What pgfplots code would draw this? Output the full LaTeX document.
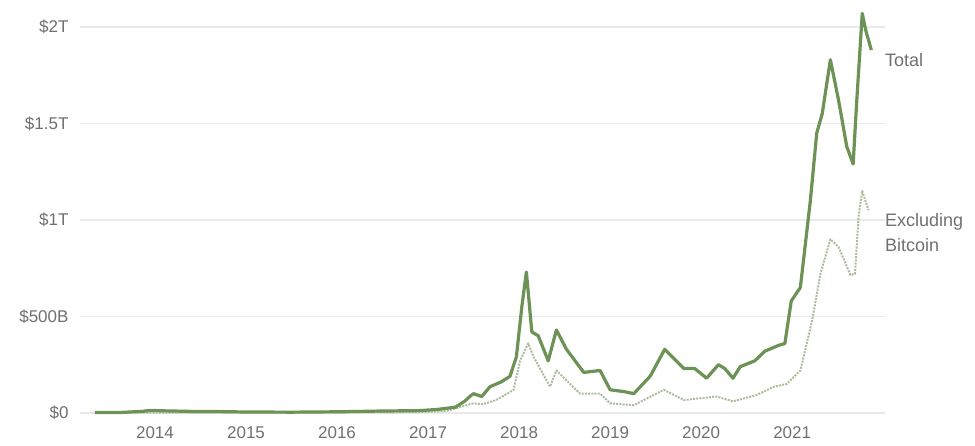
\documentclass[border=0pt]{standalone}
\usepackage{pgfplots}
\pgfplotsset{compat=1.18}
\usepackage{fontspec}
\setmainfont{Liberation Sans}
\definecolor{totalgreen}{RGB}{108,146,86}
\definecolor{exclgreen}{RGB}{172,188,156}
\definecolor{labelgray}{RGB}{112,112,112}
\definecolor{gridgray}{RGB}{234,234,234}

\begin{document}
\begin{tikzpicture}[x=1pt,y=1pt]
  \useasboundingbox (0,0) rectangle (975,446);
  \begin{axis}[
      at={(80pt,23.4pt)}, anchor=south west,
      scale only axis,
      width=805pt, height=418.8pt,
      xmin=2013.176, xmax=2022.02,
      ymin=-0.05, ymax=2.12,
      axis line style={draw=none},
      ymajorgrids,
      major grid style={gridgray, line width=1.6pt},
      major tick length=0pt,
      xtick={2014,2015,2016,2017,2018,2019,2020,2021},
      xticklabels={2014,2015,2016,2017,2018,2019,2020,2021},
      ytick={0,0.5,1,1.5,2},
      yticklabels={\$0,\$500B,\$1T,\$1.5T,\$2T},
      tick label style={font=\fontsize{17}{20}\selectfont, text=labelgray},
      yticklabel style={anchor=east, xshift=-8pt},
      xticklabel style={anchor=north, yshift=-1pt},
      clip=false,
    ]
    % excluding bitcoin
    \addplot[exclgreen, line width=2pt, dash pattern=on 2pt off 1.2pt, line join=round] coordinates {
      (2013.34,0.0005) (2014.0,0.002) (2015.0,0.001) (2016.0,0.002)
      (2016.9,0.004) (2017.2,0.01) (2017.35,0.03) (2017.50,0.05)
      (2017.60,0.045) (2017.75,0.067) (2017.94,0.12) (2018.01,0.27)
      (2018.10,0.36) (2018.16,0.29) (2018.34,0.136) (2018.41,0.22)
      (2018.67,0.10) (2018.89,0.10) (2019.00,0.05) (2019.26,0.04)
      (2019.59,0.12) (2019.81,0.067) (2020.17,0.085) (2020.35,0.06)
      (2020.61,0.093) (2020.80,0.136) (2020.94,0.15) (2021.09,0.22)
      (2021.22,0.48) (2021.31,0.72) (2021.42,0.90) (2021.51,0.86)
      (2021.64,0.715) (2021.69,0.72) (2021.73,1.02) (2021.77,1.15)
      (2021.84,1.05)
    };
    % total
    \addplot[totalgreen, line width=3.2pt, line join=round] coordinates {
      (2013.34,0.002) (2013.6,0.002) (2013.85,0.008) (2013.95,0.013)
      (2014.1,0.011) (2014.4,0.008) (2014.7,0.007) (2015.0,0.005)
      (2015.5,0.004) (2016.0,0.006) (2016.5,0.010) (2016.9,0.012)
      (2017.1,0.018) (2017.3,0.030) (2017.40,0.06) (2017.47,0.09)
      (2017.50,0.10) (2017.59,0.085) (2017.68,0.136) (2017.80,0.16)
      (2017.90,0.19) (2017.97,0.29) (2018.03,0.55) (2018.08,0.73)
      (2018.14,0.42) (2018.21,0.40) (2018.32,0.27) (2018.41,0.43)
      (2018.52,0.33) (2018.71,0.21) (2018.89,0.22) (2019.00,0.12)
      (2019.16,0.11) (2019.26,0.10) (2019.44,0.19) (2019.60,0.33)
      (2019.81,0.23) (2019.93,0.23) (2020.06,0.18) (2020.19,0.25)
      (2020.26,0.23) (2020.35,0.18) (2020.43,0.24) (2020.59,0.27)
      (2020.70,0.32) (2020.85,0.35) (2020.92,0.36) (2020.99,0.58)
      (2021.09,0.65) (2021.20,1.10) (2021.27,1.45) (2021.33,1.55)
      (2021.42,1.83) (2021.51,1.62) (2021.60,1.38) (2021.67,1.29)
      (2021.71,1.62) (2021.77,2.07) (2021.81,1.98) (2021.87,1.88)
    };
    \node[anchor=west, text=labelgray, font=\fontsize{18}{21}\selectfont, inner sep=0pt]
      at (axis cs:2022.02,1.83) {Total};
    \node[anchor=west, align=left, text=labelgray, font=\fontsize{18}{25}\selectfont, inner sep=0pt]
      at (axis cs:2022.02,0.935) {Excluding\\Bitcoin};
  \end{axis}
\end{tikzpicture}
\end{document}
